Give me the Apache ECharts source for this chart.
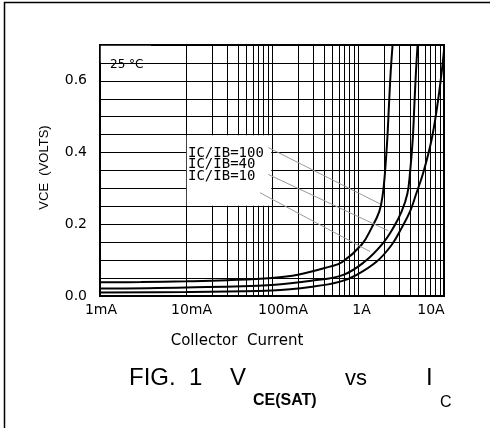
<!DOCTYPE html>
<html>
<head>
<meta charset="utf-8">
<script src="https://cdn.jsdelivr.net/npm/echarts@6/dist/echarts.min.js"></script>
<style>
html,body{margin:0;padding:0;background:#fff;}
#chart{width:490px;height:428px;}
</style>
</head>
<body>
<div id="chart"></div>
<script>
// ---- data ----
const xTickLabels = ['1mA', '10mA', '100mA', '1A', '10A'];
const yTickLabelStep = 0.2;

const ic100 = [0.001, 0.003, 0.01, 0.03, 0.1, 0.2, 0.47, 0.65, 1.1, 1.44, 1.77, 1.94, 2.06, 2.19, 2.29, 2.40, 2.53];
const v100  = [0.038, 0.039, 0.041, 0.044, 0.050, 0.059, 0.082, 0.094, 0.143, 0.190, 0.236, 0.283, 0.345, 0.437, 0.531, 0.625, 0.704];

const ic40 = [0.001, 0.01, 0.1, 0.3, 0.675, 1.2, 1.89, 2.57, 3.22, 3.75, 4.03, 4.33, 4.52, 4.72, 4.94];
const v40  = [0.021, 0.024, 0.031, 0.043, 0.059, 0.096, 0.143, 0.190, 0.236, 0.285, 0.345, 0.437, 0.531, 0.625, 0.704];

const ic10 = [0.001, 0.01, 0.1, 0.3, 0.62, 0.966, 1.65, 2.47, 3.22, 4.03, 4.72, 5.76, 7.19, 8.36, 9.4, 10];
const v10  = [0.010, 0.011, 0.015, 0.026, 0.040, 0.059, 0.096, 0.143, 0.190, 0.236, 0.283, 0.345, 0.437, 0.531, 0.625, 0.685];

const seriesNames = ['IC/IB=100', 'IC/IB=40', 'IC/IB=10'];
const tempLabel = '25 °C';

// leader lines: label anchor -> point on curve (data coordinates)
const leaderStart = [[0.0906, 0.414], [0.0906, 0.339], [0.0725, 0.288]];
const leaderEnd   = [[1.80, 0.257], [2.25, 0.182], [1.38, 0.124]];

// log grid: decades and minor multiples
const decades = [0.001, 0.01, 0.1, 1];
const minorMultiples = [2, 3, 4, 5, 6, 7, 8, 9];

// ---- build ----
const zip = (a, b) => a.map((x, i) => [x, b[i]]);
const minorLines = [];
decades.forEach(d => minorMultiples.forEach(m => minorLines.push({ xAxis: d * m })));

const labelShift = [1, 5.5, 11, 3.5, -13];
const rich = {};
labelShift.forEach((d, i) => {
  rich['s' + i] = {
    fontFamily: 'DejaVu Sans', fontSize: 14, color: '#000',
    padding: d >= 0 ? [0, 0, 0, 2 * d] : [0, -2 * d, 0, 0]
  };
});

const chart = echarts.init(document.getElementById('chart'), null, { renderer: 'canvas' });

const curveSeries = [zip(ic100, v100), zip(ic40, v40), zip(ic10, v10)].map((d, i) => ({
  name: seriesNames[i],
  type: 'line',
  data: d,
  showSymbol: false,
  smooth: 0.4,
  lineStyle: { color: '#000', width: 2 },
  z: 3,
  silent: true
}));

chart.setOption({
  animation: false,
  backgroundColor: '#fff',
  grid: {
    left: 100, right: 46, top: 45, bottom: 132,
    show: true, borderColor: '#000', borderWidth: 2, backgroundColor: 'transparent'
  },
  xAxis: {
    type: 'log', logBase: 10, min: 0.001, max: 10,
    axisLine: { show: false },
    axisTick: { show: false },
    splitLine: { show: true, lineStyle: { color: '#000', width: 1 } },
    axisLabel: {
      margin: 7,
      formatter: v => {
        const i = Math.round(Math.log10(v)) + 3;
        return '{s' + i + '|' + xTickLabels[i] + '}';
      },
      rich: rich
    },
    name: 'Collector  Current',
    nameLocation: 'middle',
    nameGap: 38,
    nameTextStyle: { fontFamily: 'DejaVu Sans', fontSize: 15, color: '#000', padding: [0, 70, 0, 0] }
  },
  yAxis: {
    type: 'value', min: 0, max: 0.7, interval: 0.05,
    axisLine: { show: false },
    axisTick: { show: false },
    splitLine: { show: true, lineStyle: { color: '#000', width: 1 } },
    axisLabel: {
      margin: 13,
      fontFamily: 'DejaVu Sans', fontSize: 14, color: '#000',
      formatter: v => (Math.round(v * 100) % Math.round(yTickLabelStep * 100) === 0) ? v.toFixed(1) : ''
    },
    name: 'VCE  (VOLTS)',
    nameLocation: 'middle',
    nameRotate: 90,
    nameGap: 49,
    nameTextStyle: { fontFamily: 'Liberation Sans', fontSize: 13, color: '#000', padding: [0, 0, 0, 6] }
  },
  series: [
    {
      type: 'line', data: [], silent: true,
      markLine: {
        silent: true, symbol: 'none', z: 1, animation: false,
        label: { show: false },
        lineStyle: { color: '#000', width: 1, type: 'solid' },
        data: minorLines
      },
      markArea: {
        silent: true, z: 1.5,
        itemStyle: { color: '#fff', opacity: 1 },
        label: { show: false },
        data: [
          [{ xAxis: 0.00102, yAxis: 0.652 }, { xAxis: 0.003925, yAxis: 0.698 }],
          [{ xAxis: 0.0102, yAxis: 0.252 }, { xAxis: 0.0981, yAxis: 0.448 }]
        ]
      }
    },
    ...curveSeries,
    {
      type: 'line', data: [], silent: true,
      markLine: {
        silent: true, symbol: 'none', z: 4, animation: false,
        label: { show: false },
        lineStyle: { color: '#9a9a9a', width: 1, type: 'solid' },
        data: leaderStart.map((s, i) => [{ coord: s }, { coord: leaderEnd[i] }])
      }
    }
  ],
  graphic: [
    { type: 'rect', silent: true, z: 10,
      shape: { x: 4.5, y: 2.5, width: 600, height: 600 },
      style: { fill: 'none', stroke: '#000', lineWidth: 1.5 } },
    { type: 'text', z: 10, x: 110, y: 65,
      style: { text: tempLabel, font: '12px "DejaVu Sans"', fill: '#000', verticalAlign: 'middle' } },
    { type: 'text', z: 10, x: 188, y: 153,
      style: { text: seriesNames[0], font: '14px "DejaVu Sans Mono"', fill: '#000', verticalAlign: 'middle' } },
    { type: 'text', z: 10, x: 188, y: 164.5,
      style: { text: seriesNames[1], font: '14px "DejaVu Sans Mono"', fill: '#000', verticalAlign: 'middle' } },
    { type: 'text', z: 10, x: 188, y: 176,
      style: { text: seriesNames[2], font: '14px "DejaVu Sans Mono"', fill: '#000', verticalAlign: 'middle' } },
    { type: 'text', z: 10, x: 129, y: 378.5,
      style: { text: 'FIG.  1', font: '24px "Liberation Sans"', fill: '#000', verticalAlign: 'middle' } },
    { type: 'text', z: 10, x: 230, y: 378.5,
      style: { text: 'V', font: '24px "Liberation Sans"', fill: '#000', verticalAlign: 'middle' } },
    { type: 'text', z: 10, x: 253, y: 401,
      style: { text: 'CE(SAT)', font: 'bold 16px "Liberation Sans"', fill: '#000', verticalAlign: 'middle' } },
    { type: 'text', z: 10, x: 345, y: 379,
      style: { text: 'vs', font: '22px "Liberation Sans"', fill: '#000', verticalAlign: 'middle' } },
    { type: 'text', z: 10, x: 426, y: 378.5,
      style: { text: 'I', font: '24px "Liberation Sans"', fill: '#000', verticalAlign: 'middle' } },
    { type: 'text', z: 10, x: 440, y: 402.5,
      style: { text: 'C', font: '16px "Liberation Sans"', fill: '#000', verticalAlign: 'middle' } }
  ]
});
</script>
</body>
</html>
